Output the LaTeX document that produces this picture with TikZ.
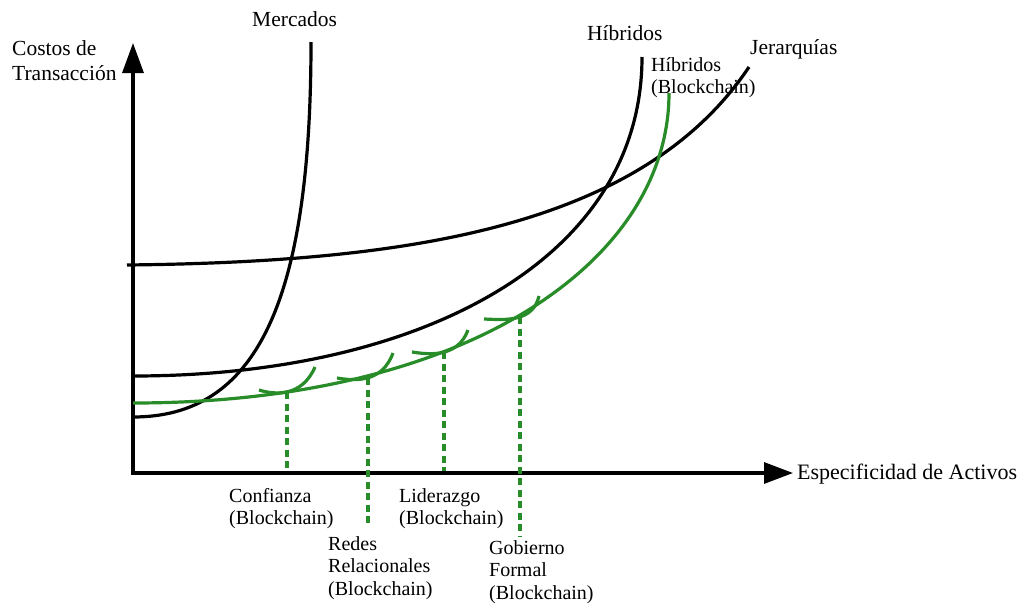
\documentclass[tikz,border=0pt]{standalone}
\usepackage{fontspec}
\setmainfont{Liberation Serif}
\usetikzlibrary{arrows.meta}
\definecolor{cgreen}{RGB}{40,140,40}
\begin{document}
\begin{tikzpicture}[x=1pt,y=-1pt,
  curve/.style={line width=3.2pt},
  gcurve/.style={line width=3.2pt, draw=cgreen},
  gdash/.style={line width=3.6pt, draw=cgreen, dash pattern=on 7pt off 4.5pt},
  axis/.style={line width=3.2pt, {Triangle[length=30pt,width=21pt]}-{Triangle[length=29pt,width=21pt]}},
  lab/.style={inner sep=0pt, font=\fontsize{21.5}{25}\selectfont, align=left},
  slab/.style={inner sep=0pt, font=\fontsize{20}{22.5}\selectfont, align=left}]
\useasboundingbox (0,0) rectangle (1024,605);
% axes
\coordinate (O) at (133,473);
\coordinate (ytip) at (133,43);
\coordinate (xtip) at (793,473);
\draw[axis] (ytip) -- (O) -- (xtip);
% black curves
\draw[curve] (133,417) .. controls (255,417) and (311,305) .. (311,42);
\draw[curve] (133,376) .. controls (420,376) and (642,260) .. (642,57);
\draw[curve] (127,265) .. controls (400,262) and (640,230) .. (749,67);
% green curve
\draw[gcurve] (133,403) .. controls (470,403) and (669,260) .. (669,93);
% small arcs
\draw[gcurve] (259,390) .. controls (275,395) and (302,397) .. (315,367);
\draw[gcurve] (337,378) .. controls (355,381) and (382,383) .. (393,353);
\draw[gcurve] (412,352) .. controls (431,355) and (458,357) .. (468,330);
\draw[gcurve] (484,319) .. controls (506,320) and (533,322) .. (539,296);
% dashed lines
\coordinate (d1t) at (287,392); \coordinate (d1b) at (287,470);
\coordinate (d2t) at (368,378); \coordinate (d2b) at (368,527);
\coordinate (d3t) at (444,352); \coordinate (d3b) at (444,471);
\coordinate (d4t) at (520,317); \coordinate (d4b) at (520,536);
\draw[gdash] (d1t) -- (d1b);
\draw[gdash] (d2t) -- (d2b);
\draw[gdash] (d3t) -- (d3b);
\draw[gdash] (d4t) -- (d4b);
% labels
\node[lab, anchor=north west] (costos) at (12,40) {Costos de\\Transacción};
\node[lab, anchor=base west] (merc) at (252,26) {Mercados};
\node[lab, anchor=base west] (hib) at (587,40) {Híbridos};
\node[lab, anchor=base west] (jer) at (750,54) {Jerarquías};
\node[slab, anchor=north west] (hibbc) at (651,57) {Híbridos\\(Blockchain)};
\node[lab, anchor=base west, font=\fontsize{22}{25}\selectfont] (esp) at (797,479) {Especificidad de Activos};
\node[slab, anchor=north west] (conf) at (229,488) {Confianza\\(Blockchain)};
\node[slab, anchor=north west] (redes) at (328,536) {Redes\\Relacionales\\(Blockchain)};
\node[slab, anchor=north west] (lid) at (399,488) {Liderazgo\\(Blockchain)};
\node[slab, anchor=north west] (gob) at (489,540) {Gobierno\\Formal\\(Blockchain)};
\end{tikzpicture}
\end{document}
